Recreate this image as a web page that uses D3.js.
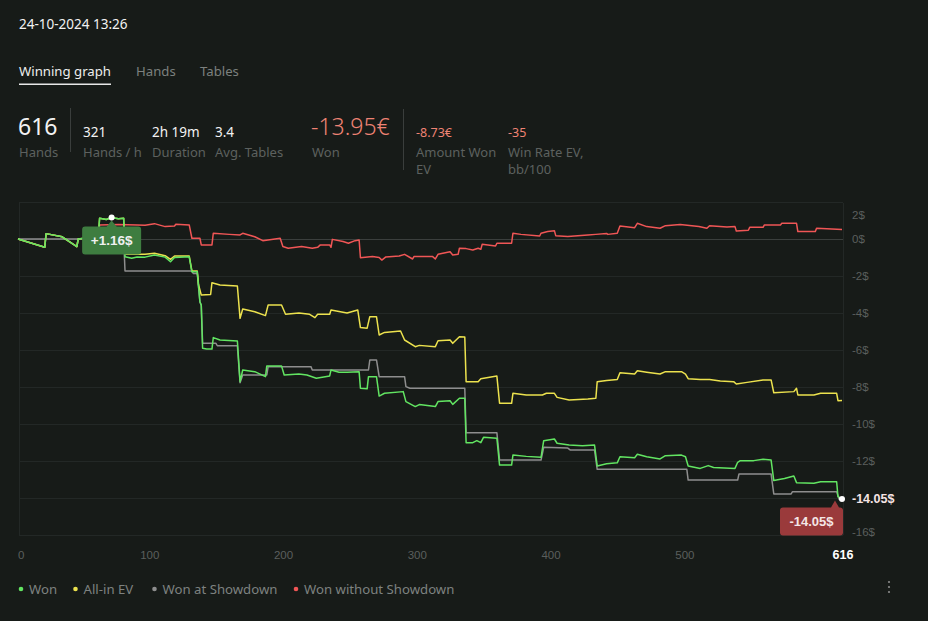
<!DOCTYPE html>
<html><head><meta charset="utf-8">
<script src="https://cdn.jsdelivr.net/npm/d3@7"></script>
<style>
html,body{margin:0;padding:0;background:#171b18;}
svg{display:block;}
</style></head>
<body>
<svg id="c" width="928" height="621"></svg>
<script>
// ---------- DATA ----------
const dateText = "24-10-2024 13:26";
const tabs = ["Winning graph", "Hands", "Tables"];
const stats = [
  {value: "321", label: ["Hands / h"]},
  {value: "2h 19m", label: ["Duration"]},
  {value: "3.4", label: ["Avg. Tables"]}
];
const totalHands = 616;
const wonTotal = "-13.95€";
const evStats = [
  {value: "-8.73€", label: ["Amount Won", "EV"]},
  {value: "-35", label: ["Win Rate EV,", "bb/100"]}
];
const xTicks = [0, 100, 200, 300, 400, 500];
const yTicks = [2, 0, -2, -4, -6, -8, -10, -12, -14, -16];
const legendNames = ["Won", "All-in EV", "Won at Showdown", "Won without Showdown"];
const seriesColors = ["#62e562", "#ece24e", "#8e8e8e", "#f05656"];

// [hand, $]
const won = [[0,0],[20,-0.45],[21,0.29],[33,0.12],[44,-0.41],[45,0],[55,0.1],[60,0.1],[61,1.12],[66,1.05],[70,1.16],[75,1.1],[79,1.12],
 [80,-0.96],[85,-1.04],[89,-0.97],[95,-0.98],[102,-0.86],[110,-0.98],[114,-1.23],[117,-1.0],[128,-0.96],[130,-1.77],[134,-1.77],
 [136,-3.39],[137,-3.57],[138,-5.91],[141,-5.95],[145,-5.95],[146,-5.33],[151,-5.46],[164,-5.51],[166,-7.71],[168,-7.08],[177,-7.17],
 [185,-7.44],[186,-6.86],[197,-6.86],[199,-7.35],[210,-7.3],[216,-7.35],[223,-7.53],[233,-7.4],[234,-7.08],[240,-7.2],[246,-7.2],
 [255,-7.17],[256,-8.07],[261,-8.1],[262,-7.44],[268,-7.44],[270,-8.49],[274,-8.34],[288,-8.25],[290,-8.79],[297,-9.06],[300,-8.95],
 [312,-9.06],[314,-8.79],[323,-8.74],[325,-8.94],[330,-8.61],[334,-8.61],[335,-11.01],[340,-11.01],[343,-10.9],[346,-11.01],
 [348,-10.72],[358,-10.77],[360,-12.22],[369,-12.22],[370,-11.68],[380,-11.75],[391,-11.8],[393,-10.9],[401,-10.81],[403,-11.04],
 [412,-11.14],[422,-11.18],[431,-11.14],[433,-12.27],[440,-12.15],[448,-12.1],[450,-11.77],[461,-11.82],[463,-11.64],[470,-11.77],
 [480,-11.89],[484,-11.71],[496,-11.68],[499,-11.77],[501,-12.27],[510,-12.4],[516,-12.25],[520,-12.35],[536,-12.4],[538,-12.07],
 [540,-11.98],[550,-11.98],[557,-11.91],[563,-11.95],[565,-13.06],[573,-12.95],[580,-12.81],[582,-13.17],[595,-13.2],[600,-13.12],
 [612,-13.12],[613,-13.93],[616,-14.05]];

const allInEV = [[0,0],[20,-0.45],[21,0.29],[33,0.12],[44,-0.41],[45,0],[55,0.1],[60,0.1],[61,1.12],[66,1.05],[70,1.16],[75,1.1],[79,1.12],
 [80,-0.83],[89,-0.83],[95,-0.83],[102,-0.77],[110,-0.9],[114,-1.1],[117,-0.92],[128,-0.92],[130,-1.73],[134,-1.73],[135,-2.49],
 [137,-3.03],[144,-3.0],[145,-2.36],[151,-2.49],[164,-2.54],[166,-4.29],[168,-3.78],[177,-3.93],[185,-4.14],[187,-3.57],[197,-3.57],
 [200,-4.07],[210,-4.0],[218,-4.07],[222,-4.25],[224,-4.07],[233,-4.07],[234,-3.84],[246,-4.0],[254,-3.84],[256,-4.79],[261,-4.82],
 [263,-4.2],[268,-4.2],[270,-5.19],[274,-5.05],[286,-4.97],[289,-5.46],[297,-5.82],[300,-5.75],[312,-5.82],[314,-5.5],[323,-5.46],
 [325,-5.64],[330,-5.28],[334,-5.3],[335,-7.71],[344,-7.71],[346,-7.55],[358,-7.41],[360,-8.88],[369,-8.88],[370,-8.34],[380,-8.43],
 [392,-8.43],[395,-8.34],[401,-8.34],[403,-8.56],[412,-8.7],[426,-8.65],[432,-8.61],[433,-7.71],[440,-7.65],[448,-7.6],[450,-7.23],
 [461,-7.3],[463,-7.12],[470,-7.2],[480,-7.3],[484,-7.17],[496,-7.17],[499,-7.3],[501,-7.55],[510,-7.6],[517,-7.6],[525,-7.68],
 [535,-7.71],[537,-7.84],[545,-7.75],[557,-7.62],[563,-7.62],[565,-8.31],[580,-8.25],[582,-8.07],[583,-8.43],[595,-8.43],[600,-8.34],
 [612,-8.34],[613,-8.74],[616,-8.73]];

const showdown = [[0,0],[79,0],[80,-1.73],[130,-1.73],[131,-1.86],[134,-1.86],[136,-3.4],[137,-3.6],[138,-5.64],[148,-5.64],[149,-5.77],
 [164,-5.77],[166,-7.77],[168,-7.35],[186,-7.35],[187,-6.9],[219,-6.9],[220,-7.08],[262,-7.08],[263,-6.54],[268,-6.54],[270,-7.44],
 [289,-7.44],[290,-7.98],[293,-8.07],[334,-8.07],[335,-10.47],[358,-10.47],[360,-11.95],[391,-11.95],[393,-11.26],[411,-11.3],
 [413,-11.41],[431,-11.41],[433,-12.45],[500,-12.45],[501,-13.03],[538,-13.03],[539,-12.7],[563,-12.7],[565,-13.78],[578,-13.78],
 [579,-13.66],[612,-13.66],[614,-14.1]];

const nonShowdown = [[0,0],[20,-0.45],[21,0.29],[33,0.12],[44,-0.41],[45,0],[55,0.05],[60,-0.1],[61,0.76],[75,0.78],[89,0.76],[95,0.74],
 [102,0.83],[110,0.67],[117,0.7],[118,0.8],[128,0.76],[130,0.04],[136,0.04],[137,-0.32],[145,-0.32],[146,0.31],[158,0.25],[166,0.22],
 [168,0.31],[177,0.12],[183,-0.09],[196,0.04],[198,-0.41],[202,-0.5],[212,-0.41],[220,-0.5],[224,-0.45],[226,-0.32],[233,-0.32],
 [234,-0.45],[235,-0.02],[243,-0.14],[247,-0.23],[252,-0.09],[255,-0.05],[256,-1.01],[265,-0.95],[270,-1.0],[272,-1.14],[275,-0.97],
 [285,-0.92],[289,-0.83],[295,-1.08],[296,-0.95],[310,-0.95],[312,-1.08],[314,-0.83],[323,-0.69],[325,-0.86],[329,-0.83],[330,-0.5],
 [335,-0.52],[340,-0.59],[344,-0.5],[346,-0.55],[347,-0.29],[357,-0.38],[358,-0.23],[369,-0.23],[370,0.31],[376,0.25],[390,0.16],
 [391,0.31],[396,0.4],[401,0.45],[402,0.18],[411,0.13],[426,0.22],[432,0.25],[440,0.3],[441,0.25],[448,0.31],[450,0.7],[461,0.61],
 [463,0.85],[470,0.67],[480,0.58],[484,0.72],[495,0.79],[509,0.67],[515,0.58],[517,0.72],[530,0.65],[536,0.67],[537,0.43],[546,0.47],
 [547,0.63],[557,0.63],[558,0.76],[570,0.76],[571,0.85],[582,0.85],[583,0.4],[596,0.4],[597,0.58],[616,0.52]];

// ---------- DRAW ----------
(function () {
const svg = d3.select("#c");
const uiFont = "'Noto Sans', 'Open Sans', sans-serif";
const chFont = "'Liberation Sans', Arial, sans-serif";
const salmon = "#ef8374";
const muted = "#5d615f";

svg.append("rect").attr("width", 928).attr("height", 621).attr("fill", "#171b18");

svg.append("text").attr("x", 19).attr("y", 29).attr("font-family", uiFont).attr("font-size", 13.5)
  .attr("fill", "#f2f2f2").text(dateText);

const tabX = [19, 136, 200];
tabs.forEach((t, i) => {
  svg.append("text").attr("x", tabX[i]).attr("y", 76).attr("font-family", uiFont).attr("font-size", 13.2)
    .attr("fill", i === 0 ? "#eeeeee" : "#7c807e").text(t);
});
svg.append("rect").attr("x", 19).attr("y", 83.5).attr("width", 92).attr("height", 1.5).attr("fill", "#e8e8e8");

svg.append("text").attr("x", 18).attr("y", 135).attr("font-family", uiFont).attr("font-size", 23)
  .attr("fill", "#f2f2f2").text(totalHands);
svg.append("text").attr("x", 19).attr("y", 156.5).attr("font-family", uiFont).attr("font-size", 13)
  .attr("fill", muted).text("Hands");
svg.append("line").attr("x1", 70.5).attr("x2", 70.5).attr("y1", 108).attr("y2", 152).attr("stroke", "#3a3e3c");
const statX = [83, 152, 215];
stats.forEach((s, i) => {
  svg.append("text").attr("x", statX[i]).attr("y", 136.5).attr("font-family", uiFont).attr("font-size", 13.5)
    .attr("fill", "#f2f2f2").text(s.value);
  svg.append("text").attr("x", statX[i]).attr("y", 156.5).attr("font-family", uiFont).attr("font-size", 13)
    .attr("fill", muted).text(s.label[0]);
});
svg.append("text").attr("x", 311).attr("y", 135).attr("font-family", uiFont).attr("font-size", 23).attr("font-weight", 300)
  .attr("fill", salmon).text(wonTotal);
svg.append("text").attr("x", 312).attr("y", 156.5).attr("font-family", uiFont).attr("font-size", 13)
  .attr("fill", muted).text("Won");
svg.append("line").attr("x1", 403.5).attr("x2", 403.5).attr("y1", 109).attr("y2", 170).attr("stroke", "#3a3e3c");
const evX = [416, 508];
evStats.forEach((s, i) => {
  svg.append("text").attr("x", evX[i]).attr("y", 136.5).attr("font-family", uiFont).attr("font-size", 12.5)
    .attr("fill", salmon).text(s.value);
  s.label.forEach((l, j) => {
    svg.append("text").attr("x", evX[i]).attr("y", 156.5 + j * 17.5).attr("font-family", uiFont).attr("font-size", 13)
      .attr("fill", muted).text(l);
  });
});

// chart
const pLeft = 19, pRight = 843, pTop = 203, pBottom = 535;
const x = d3.scaleLinear().domain([0, totalHands]).range([18, 842]);
const y = d3.scaleLinear().domain([-16, 2]).range([535, 202]);

const g = svg.append("g");
yTicks.forEach(v => {
  g.append("line").attr("x1", pLeft).attr("x2", pRight).attr("y1", Math.round(y(v)) + 0.5).attr("y2", Math.round(y(v)) + 0.5)
    .attr("stroke", v === 0 ? "#3b3f3d" : "#232826").attr("stroke-width", 1);
});
g.append("line").attr("x1", pLeft + 0.5).attr("x2", pLeft + 0.5).attr("y1", pTop).attr("y2", pBottom).attr("stroke", "#232826");
g.append("line").attr("x1", pRight + 0.5).attr("x2", pRight + 0.5).attr("y1", pTop).attr("y2", pBottom).attr("stroke", "#232826");

const endPt = won[won.length - 1];
const ex = x(endPt[0]), ey = y(endPt[1]);

yTicks.forEach(v => {
  let yy = y(v);
  if (Math.abs(yy - ey) < 10) return; // hidden behind the current-value label
  if (v === 2) yy = yy + 13;
  if (v === -16) yy = yy - 3;
  g.append("text").attr("x", 852).attr("y", yy).attr("dy", "0.35em").attr("font-family", chFont).attr("font-size", 11.5)
    .attr("fill", "#5b5f5d").text(v + "$");
});
xTicks.forEach(v => {
  g.append("text").attr("x", v === 0 ? 18 : x(v) - 2).attr("y", 559).attr("text-anchor", v === 0 ? "start" : "middle")
    .attr("font-family", chFont).attr("font-size", 11.5).attr("fill", "#5b5f5d").text(v);
});
g.append("text").attr("x", x(totalHands) + 1).attr("y", 559).attr("text-anchor", "middle").attr("font-family", chFont)
  .attr("font-size", 12.5).attr("font-weight", "bold").attr("fill", "#ffffff").text(totalHands);

const line = d3.line().x(d => x(d[0])).y(d => y(d[1]));
const order = [[nonShowdown, 3], [showdown, 2], [allInEV, 1], [won, 0]];
order.forEach(([data, ci]) => {
  g.append("path").datum(data).attr("d", line).attr("fill", "none").attr("stroke", seriesColors[ci])
    .attr("stroke-width", 1.5).attr("stroke-linejoin", "round");
});

const maxPt = won.reduce((a, b) => b[1] > a[1] ? b : a);
const mx = x(maxPt[0]), my = y(maxPt[1]);
const bw = 59, bh = 28, bTop = my + 9;
g.append("path").attr("d", `M${mx - bw / 2 + 3},${bTop} H${mx - 5} L${mx},${my + 3} L${mx + 5},${bTop} H${mx + bw / 2 - 3} Q${mx + bw / 2},${bTop} ${mx + bw / 2},${bTop + 3} V${bTop + bh - 3} Q${mx + bw / 2},${bTop + bh} ${mx + bw / 2 - 3},${bTop + bh} H${mx - bw / 2 + 3} Q${mx - bw / 2},${bTop + bh} ${mx - bw / 2},${bTop + bh - 3} V${bTop + 3} Q${mx - bw / 2},${bTop} ${mx - bw / 2 + 3},${bTop} Z`)
  .attr("fill", "#3e7d40");
g.append("text").attr("x", mx).attr("y", bTop + bh / 2).attr("dy", "0.36em").attr("text-anchor", "middle")
  .attr("font-family", chFont).attr("font-size", 13.5).attr("font-weight", "bold").attr("fill", "#f0f0f0")
  .text("+" + maxPt[1].toFixed(2) + "$");
g.append("circle").attr("cx", mx).attr("cy", my).attr("r", 3).attr("fill", "#ffffff");

const rTop = ey + 8.5, rL = 780, rR = 843, ax = ex - 7;
g.append("path").attr("d", `M${rL + 3},${rTop} H${ax - 4} L${ax},${ey + 1.5} L${ax + 4},${rTop} H${rR - 3} Q${rR},${rTop} ${rR},${rTop + 3} V${rTop + 25} Q${rR},${rTop + 28} ${rR - 3},${rTop + 28} H${rL + 3} Q${rL},${rTop + 28} ${rL},${rTop + 25} V${rTop + 3} Q${rL},${rTop} ${rL + 3},${rTop} Z`)
  .attr("fill", "#9a3a3b");
g.append("text").attr("x", (rL + rR) / 2).attr("y", rTop + 14).attr("dy", "0.36em").attr("text-anchor", "middle")
  .attr("font-family", chFont).attr("font-size", 13).attr("font-weight", "bold").attr("fill", "#f4e6e6")
  .text(endPt[1].toFixed(2) + "$");
g.append("circle").attr("cx", ex).attr("cy", ey).attr("r", 3).attr("fill", "#ffffff");
g.append("text").attr("x", 852).attr("y", ey).attr("dy", "0.35em").attr("font-family", chFont).attr("font-size", 12.5)
  .attr("font-weight", "bold").attr("fill", "#f6e4e4").text(endPt[1].toFixed(2) + "$");

const legX = [21, 75.5, 154.5, 296];
legendNames.forEach((n, i) => {
  svg.append("circle").attr("cx", legX[i]).attr("cy", 589).attr("r", 2.3).attr("fill", seriesColors[i]);
  svg.append("text").attr("x", legX[i] + 8).attr("y", 589).attr("dy", "0.35em").attr("font-family", uiFont)
    .attr("font-size", 13.2).attr("fill", "#7e8280").text(n);
});
[582, 587, 592].forEach(cy => svg.append("circle").attr("cx", 889).attr("cy", cy).attr("r", 1.1).attr("fill", "#8a8a8a"));
})();
</script>
</body></html>
